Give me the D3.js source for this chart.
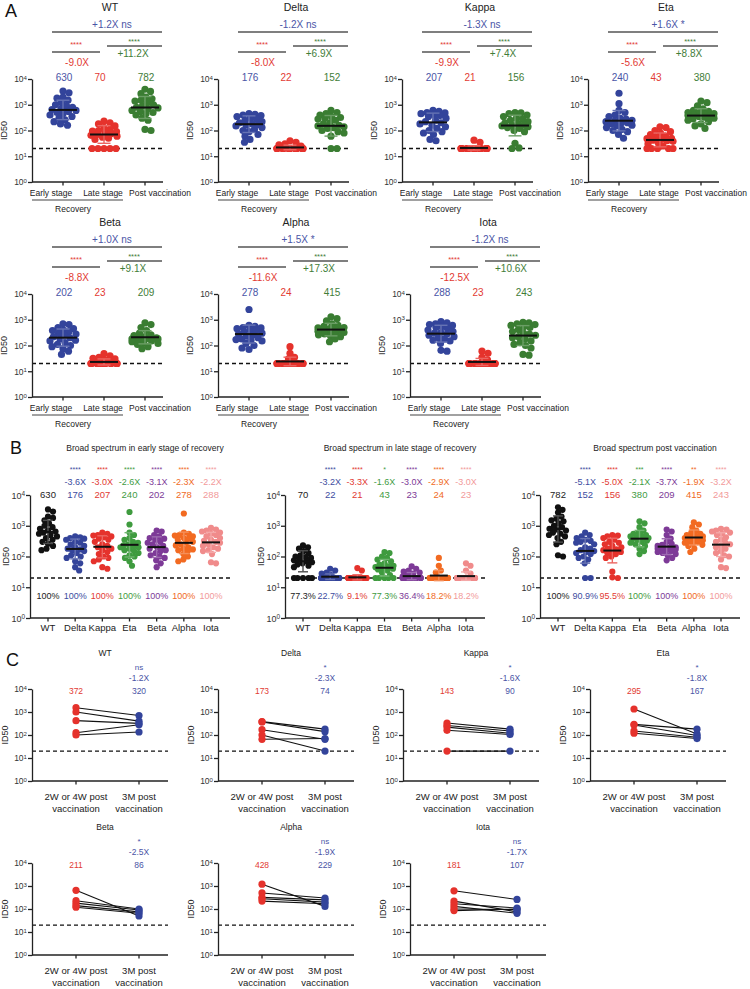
<!DOCTYPE html>
<html><head><meta charset="utf-8">
<script src="https://cdn.jsdelivr.net/npm/d3@7"></script>
<style>body{margin:0;background:#fff} svg{display:block} text{font-family:"Liberation Sans",Arial,Helvetica,sans-serif}</style>
</head><body><svg id="c" width="750" height="989"></svg>
<script>
// ---------------- DATA ----------------
const variants = ["WT","Delta","Kappa","Eta","Beta","Alpha","Iota"];
const stages = ["Early stage","Late stage","Post vaccination"];
const yTicks = [1, 10, 100, 1000, 10000];
const LOD = 20;

const early_WT = [3400,2900,2000,1800,1500,1200,1000,900,800,700,650,600,550,500,450,400,350,300,260,220,180,160];
const late_WT = [230,200,180,150,130,110,100,95,90,80,75,70,65,60,55,50,45,20,20,20,20,20];
const post_WT = [4000,3300,2700,2000,1700,1500,1400,1200,1000,900,800,750,700,600,550,500,450,400,300,250,110,100];
const early_Delta = [450,420,400,380,350,300,280,250,220,200,180,170,160,150,130,110,100,90,70,60,45,35];
const late_Delta = [40,35,30,28,25,20,20,20,20,20,20,20,20,20,20,20,20,20,20,20,20,20];
const post_Delta = [600,500,450,400,350,320,300,280,250,200,180,160,150,140,130,120,100,90,80,60,20,20];
const early_Kappa = [600,550,500,480,450,420,380,350,300,250,220,200,180,160,140,120,100,90,80,70,45,40];
const late_Kappa = [42,35,20,20,20,20,20,20,20,20,20,20,20,20,20,20,20,20,20,20,20,20];
const post_Kappa = [500,480,450,400,350,300,280,250,220,200,180,170,160,150,140,130,120,100,90,32,21,20];
const early_Eta = [2800,1100,600,500,400,350,300,280,250,230,220,200,200,180,160,150,130,110,100,90,70,50];
const late_Eta = [140,130,100,90,80,70,60,55,50,48,45,42,40,38,35,30,25,20,20,20,20,20];
const post_Eta = [1400,1200,900,700,600,550,500,480,450,420,400,380,360,350,330,300,280,250,220,180,150,120];
const early_Beta = [700,650,500,450,400,380,350,300,280,250,220,200,180,160,150,130,110,100,90,75,60,45];
const late_Beta = [48,40,35,32,30,28,25,22,20,20,20,20,20,20,20,20,20,20,20,20,20,20];
const post_Beta = [750,650,500,380,300,260,240,220,200,200,190,180,180,170,160,150,140,130,120,110,90,75];
const early_Alpha = [2500,600,550,500,480,450,400,380,350,300,280,250,230,200,180,170,160,150,120,100,80,70];
const late_Alpha = [90,50,35,30,20,20,20,20,20,20,20,20,20,20,20,20,20,20,20,20,20,20];
const post_Alpha = [1300,1100,900,700,600,550,500,480,450,420,400,380,360,340,320,300,280,260,240,220,180,140];
const early_Iota = [850,750,700,650,600,550,500,450,400,350,320,300,280,250,220,200,180,160,150,120,65,60];
const late_Iota = [60,50,35,28,20,20,20,20,20,20,20,20,20,20,20,20,20,20,20,20,20,20];
const post_Iota = [800,750,700,650,600,550,500,420,350,300,280,250,220,200,180,150,130,110,100,80,45,42];

const gmtEarly = [630,176,207,240,202,278,288];
const gmtLate = [70,22,21,43,23,24,23];
const gmtPost = [782,152,156,380,209,415,243];
const foldTop = ["+1.2X","-1.2X","-1.3X","+1.6X","+1.0X","+1.5X","-1.2X"];
const sigTop = ["ns","ns","ns","*","ns","*","ns"];
const foldLeft = ["-9.0X","-8.0X","-9.9X","-5.6X","-8.8X","-11.6X","-12.5X"];
const foldRight = ["+11.2X","+6.9X","+7.4X","+8.8X","+9.1X","+17.3X","+10.6X"];

const bTitles = ["Broad spectrum in early stage  of recovery","Broad spectrum in late stage of recovery","Broad spectrum post vaccination"];
const bStarsEarly = ["","****","****","****","****","****","****"];
const bStarsLate = ["","****","****","*","****","****","****"];
const bStarsPost = ["","****","****","***","****","**","****"];
const bFoldEarly = ["","-3.6X","-3.0X","-2.6X","-3.1X","-2.3X","-2.2X"];
const bFoldLate = ["","-3.2X","-3.3X","-1.6X","-3.0X","-2.9X","-3.0X"];
const bFoldPost = ["","-5.1X","-5.0X","-2.1X","-3.7X","-1.9X","-3.2X"];
const bPctEarly = ["100%","100%","100%","100%","100%","100%","100%"];
const bPctLate = ["77.3%","22.7%","9.1%","77.3%","36.4%","18.2%","18.2%"];
const bPctPost = ["100%","90.9%","95.5%","100%","100%","100%","100%"];

const cCats = ["2W or 4W post vaccination","3M post vaccination"];
const c2w_WT = [1540,1000,420,126,100],   c3m_WT = [700,400,320,280,135];
const c2w_Delta = [380,370,170,100,65],   c3m_Delta = [180,140,65,20,70];
const c2w_Kappa = [330,260,220,160,20],   c3m_Kappa = [180,150,120,105,20];
const c2w_Eta = [1350,290,270,150,120],   c3m_Eta = [110,180,95,80,70];
const c2w_Beta = [650,230,180,140,120],   c3m_Beta = [50,100,90,75,65];
const c2w_Alpha = [1200,500,320,280,220], c3m_Alpha = [130,300,250,200,170];
const c2w_Iota = [620,220,170,130,100,85], c3m_Iota = [260,75,110,65,95,100];
const cGmt2w = [372,173,143,295,211,428,181];
const cGmt3m = [320,74,90,167,86,229,107];
const cSig = ["ns","*","*","*","*","ns","ns"];
const cFold = ["-1.2X","-2.3X","-1.6X","-1.8X","-2.5X","-1.9X","-1.7X"];

// ---------------- STYLE / LAYOUT ----------------
const BLUE = "#33449b", RED = "#e5322c", GREEN = "#3a7d32";
const BLUE_T = "#4a55a6", RED_T = "#e23a33", GREEN_T = "#3f7d38";
const bCols = ["#111111","#34449a","#e5322c","#3f9b3f","#7d3a97","#f26a21","#f08b8b"];
const bTextCols = ["#222222","#3d4ca0","#e23a33","#3f9b3f","#7d3a97","#f06a25","#f29a9a"];
const FONT = '"Liberation Sans", Arial, sans-serif';

const svg = d3.select("#c");
const earlyData = [early_WT,early_Delta,early_Kappa,early_Eta,early_Beta,early_Alpha,early_Iota];
const lateData = [late_WT,late_Delta,late_Kappa,late_Eta,late_Beta,late_Alpha,late_Iota];
const postData = [post_WT,post_Delta,post_Kappa,post_Eta,post_Beta,post_Alpha,post_Iota];
const c2w = [c2w_WT,c2w_Delta,c2w_Kappa,c2w_Eta,c2w_Beta,c2w_Alpha,c2w_Iota];
const c3m = [c3m_WT,c3m_Delta,c3m_Kappa,c3m_Eta,c3m_Beta,c3m_Alpha,c3m_Iota];

function txt(g, x, y, s, size, fill, anchor) {
  return g.append("text").attr("x", x).attr("y", y).attr("font-size", size)
    .attr("fill", fill || "#222").attr("text-anchor", anchor || "middle").text(s);
}
function hline(g, x1, x2, y, col, w, dash) {
  const l = g.append("line").attr("x1", x1).attr("x2", x2).attr("y1", y).attr("y2", y)
    .attr("stroke", col).attr("stroke-width", w);
  if (dash) l.attr("stroke-dasharray", dash);
  return l;
}
function yAxis(g, y, x0, fs) {
  const ax = d3.axisLeft(y).tickValues(yTicks).tickSize(4).tickSizeOuter(0).tickFormat(() => "");
  const a = g.append("g").attr("transform", `translate(${x0},0)`).call(ax);
  a.select(".domain").attr("stroke", "#222").attr("stroke-width", 1.3);
  a.selectAll(".tick line").attr("stroke", "#222").attr("stroke-width", 1.3);
  a.selectAll(".tick text").each(function(d) {
    const t = d3.select(this).attr("font-size", fs).attr("fill", "#333").attr("font-family", FONT).attr("x", -5).attr("dy", "0.35em");
    t.append("tspan").text("10");
    t.append("tspan").attr("dy", "-0.45em").attr("font-size", fs * 0.72).text(Math.round(Math.log10(d)));
  });
}
function xAxis(g, x0, x1, yb, xs) {
  hline(g, x0, x1, yb, "#222", 1.3);
  xs.forEach(cx => g.append("line").attr("x1", cx).attr("x2", cx).attr("y1", yb).attr("y2", yb + 3.5).attr("stroke", "#222").attr("stroke-width", 1.3));
}
function ylabel(g, x, y, fs) {
  g.append("text").attr("transform", `translate(${x},${y}) rotate(-90)`).attr("text-anchor", "middle")
    .attr("font-size", fs).attr("fill", "#222").text("ID50");
}
function swarm(vals, y, cx, r, maxHalf) {
  const placed = [], out = [];
  const dmin = 2 * r * 0.82;
  vals.forEach(v => {
    const py = y(v);
    let best = 0, bestPen = Infinity;
    for (let k = 0; k <= maxHalf + 1e-9; k += 0.5) {
      const cands = k === 0 ? [0] : [k, -k];
      for (const s of cands) {
        let pen = 0;
        for (const p of placed) {
          const d = Math.hypot(p.x - s, p.y - py);
          if (d < dmin) pen += dmin - d;
        }
        if (pen < bestPen - 1e-6) { bestPen = pen; best = s; }
      }
    }
    placed.push({x: best, y: py});
    out.push({v, x: cx + best, y: py});
  });
  return out;
}
function group(g, vals, y, cx, color, r, maxHalf, gm, meanW, capW) {
  const pts = swarm(vals, y, cx, r, maxHalf);
  g.append("g").selectAll("circle").data(pts).join("circle")
    .attr("cx", d => d.x).attr("cy", d => d.y).attr("r", r).attr("fill", color);
  const sd = d3.deviation(vals.map(v => Math.log10(v)));
  const lm = Math.log10(gm);
  const lo = Math.pow(10, lm - sd), hi = Math.pow(10, lm + sd);
  const ec = d3.interpolateRgb(color, "#ffffff")(0.25);
  g.append("line").attr("x1", cx).attr("x2", cx).attr("y1", y(lo)).attr("y2", y(hi)).attr("stroke", ec).attr("stroke-width", 1.4);
  [lo, hi].forEach(b => hline(g, cx - capW / 2, cx + capW / 2, y(b), ec, 1.4));
  hline(g, cx - meanW / 2, cx + meanW / 2, y(gm), "#111", 2);
}

// ---------------- PANEL LETTERS ----------------
[["A", 5, 17], ["B", 10, 454], ["C", 6, 666]].forEach(([s, x, yy]) =>
  svg.append("text").attr("x", x).attr("y", yy).attr("font-size", 18).attr("fill", "#111").text(s));

// ---------------- PANEL A ----------------
const aX = [32, 218, 402, 588, 32, 218, 410];
const aTop = [79, 79, 79, 79, 294, 294, 294];
variants.forEach((v, i) => {
  const g = svg.append("g");
  const x0 = aX[i], top = aTop[i], bot = top + 103;
  const y = d3.scaleLog().domain([1, 1e4]).range([bot, top]);
  const x = d3.scalePoint().domain(stages).range([x0 + 31, x0 + 113]);
  const cols = [BLUE, RED, GREEN];
  const data = [earlyData[i], lateData[i], postData[i]];
  const gm = [gmtEarly[i], gmtLate[i], gmtPost[i]];
  hline(g, x0, x0 + 131, y(LOD), "#111", 1.4, "4,3");
  yAxis(g, y, x0, 8.5);
  xAxis(g, x0, x0 + 131, bot, stages.map(s => x(s)));
  stages.forEach((s, k) => group(g, data[k], y, x(s), cols[k], 3.6, 13, gm[k], 28, 13));
  // titles and comparison brackets
  txt(g, x0 + 78, top - 68, v, 10.5, "#222");
  txt(g, x0 + 80, top - 51, foldTop[i] + " " + sigTop[i], 10, BLUE_T);
  hline(g, x0 + 20, x0 + 130, top - 47, "#555", 1.3);
  txt(g, x0 + 44, top - 32.5, "****", 7.5, RED_T);
  hline(g, x0 + 20, x0 + 68, top - 27, "#555", 1.3);
  txt(g, x0 + 45, top - 13, foldLeft[i], 10, RED_T);
  txt(g, x0 + 102, top - 35.5, "****", 7.5, GREEN_T);
  hline(g, x0 + 75, x0 + 130, top - 33, "#555", 1.3);
  txt(g, x0 + 101, top - 22, foldRight[i], 10, GREEN_T);
  const tc = [BLUE_T, RED_T, GREEN_T];
  stages.forEach((s, k) => txt(g, x(s) + (k === 1 ? -4 : 1), top + 1.5, gm[k], 10, tc[k]));
  // x labels and recovery bracket
  const xl = [x0 + 19, x0 + 71, x0 + 128];
  stages.forEach((s, k) => txt(g, xl[k], bot + 14, s, 8.5, "#222"));
  hline(g, x0, x0 + 91, bot + 18, "#444", 1.2);
  txt(g, x0 + 41, bot + 30, "Recovery", 8.5, "#222");
  ylabel(g, x0 - 25, (top + bot) / 2, 9);
});

// ---------------- PANEL B ----------------
const bX = [30, 285, 540];
const bData = [earlyData, lateData, postData];
const bGmt = [gmtEarly, gmtLate, gmtPost];
const bStars = [bStarsEarly, bStarsLate, bStarsPost];
const bFold = [bFoldEarly, bFoldLate, bFoldPost];
const bPct = [bPctEarly, bPctLate, bPctPost];
bX.forEach((x0, p) => {
  const g = svg.append("g");
  const top = 495, bot = 618;
  const y = d3.scaleLog().domain([1, 1e4]).range([bot, top]);
  const x = d3.scalePoint().domain(variants).range([x0 + 18, x0 + 181]);
  hline(g, x0, x0 + 200, y(LOD), "#111", 1.4, "4,3");
  yAxis(g, y, x0, 9);
  xAxis(g, x0, x0 + 200, bot, variants.map(v => x(v)));
  variants.forEach((v, k) => group(g, bData[p][k], y, x(v), bCols[k], 3.1, 9, bGmt[p][k], 18, 10));
  txt(g, x0 + 115, 451, bTitles[p], 8.5, "#222");
  variants.forEach((v, k) => {
    const cx = x(v);
    if (bStars[p][k]) txt(g, cx, 471.5, bStars[p][k], 7, bTextCols[k]);
    if (bFold[p][k]) txt(g, cx, 485, bFold[p][k], 9, bTextCols[k]);
    txt(g, cx, 497.5, bGmt[p][k], 9.5, bTextCols[k]);
    txt(g, cx, 599, bPct[p][k], 9, bTextCols[k]);
    txt(g, cx, 631, v, 9.5, "#222");
  });
  ylabel(g, x0 - 21, (top + bot) / 2, 9);
});

// ---------------- PANEL C ----------------
const cX = [32, 218, 403, 590, 32, 218, 410];
const cTop = [689, 689, 689, 689, 863, 863, 863];
variants.forEach((v, i) => {
  const g = svg.append("g");
  const x0 = cX[i], top = cTop[i], bot = top + 92;
  const y = d3.scaleLog().domain([1, 1e4]).range([bot, top]);
  const x = d3.scalePoint().domain(cCats).range([x0 + 44, x0 + 107]);
  hline(g, x0, x0 + 136, y(LOD), "#111", 1.4, "4,3");
  yAxis(g, y, x0, 8.5);
  xAxis(g, x0, x0 + 136, bot, cCats.map(c => x(c)));
  const pairs = c2w[i].map((a, k) => [a, c3m[i][k]]);
  g.append("g").selectAll("line").data(pairs).join("line")
    .attr("x1", x(cCats[0])).attr("x2", x(cCats[1]))
    .attr("y1", d => y(d[0])).attr("y2", d => y(d[1]))
    .attr("stroke", "#111").attr("stroke-width", 1.1);
  g.append("g").selectAll("circle").data(c2w[i]).join("circle")
    .attr("cx", x(cCats[0])).attr("cy", d => y(d)).attr("r", 3.6).attr("fill", RED);
  g.append("g").selectAll("circle").data(c3m[i]).join("circle")
    .attr("cx", x(cCats[1])).attr("cy", d => y(d)).attr("r", 3.6).attr("fill", BLUE);
  txt(g, x0 + 73, top - 33, v, 8.5, "#222");
  txt(g, x(cCats[1]), top - 19, cSig[i], 8, BLUE_T);
  txt(g, x(cCats[1]), top - 8, cFold[i], 8.5, BLUE_T);
  txt(g, x(cCats[0]), top + 5, cGmt2w[i], 8.5, RED_T);
  txt(g, x(cCats[1]), top + 5, cGmt3m[i], 8.5, BLUE_T);
  txt(g, x(cCats[0]), bot + 19, "2W or 4W post", 9.5, "#222");
  txt(g, x(cCats[0]), bot + 30.5, "vaccination", 9.5, "#222");
  txt(g, x(cCats[1]), bot + 19, "3M post", 9.5, "#222");
  txt(g, x(cCats[1]), bot + 30.5, "vaccination", 9.5, "#222");
  ylabel(g, x0 - 24, (top + bot) / 2, 9);
});
</script></body></html>
